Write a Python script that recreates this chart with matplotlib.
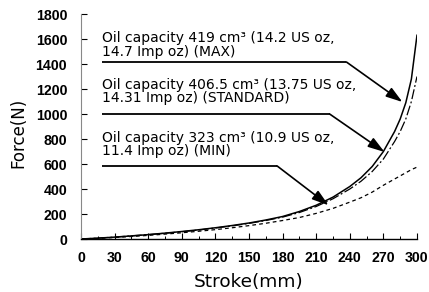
import matplotlib
matplotlib.use("Agg")
import matplotlib.pyplot as plt

plt.rcParams['font.family'] = ['DejaVu Sans']

stroke = [0, 15, 30, 45, 60, 75, 90, 105, 120, 135, 150, 165, 180, 195, 210,
          225, 240, 250, 260, 270, 280, 285, 290, 295, 300]
force_max = [0, 7, 15, 25, 35, 47, 60, 74, 90, 108, 128, 152, 180, 220, 270,
             335, 420, 490, 580, 700, 860, 960, 1090, 1280, 1630]
force_std = [0, 7, 15, 25, 35, 46, 58, 72, 88, 105, 125, 148, 175, 212, 260,
             322, 400, 462, 540, 640, 780, 860, 960, 1100, 1300]
force_min = [0, 5, 12, 20, 29, 39, 50, 62, 75, 90, 107, 126, 148, 172, 205,
             245, 295, 330, 375, 430, 480, 505, 530, 555, 575]

labels = ["Oil capacity 419 cm³ (14.2 US oz,\n14.7 Imp oz) (MAX)",
          "Oil capacity 406.5 cm³ (13.75 US oz,\n14.31 Imp oz) (STANDARD)",
          "Oil capacity 323 cm³ (10.9 US oz,\n11.4 Imp oz) (MIN)"]
label_y = [1552, 1180, 756]
leader_y = [1416, 1000, 585]
leader_x_end = [237, 222, 175]
tip_x = [287, 271, 221]
tip_y = [1096, 696, 270]
text_x = 19

xticks = list(range(0, 301, 30))
yticks = list(range(0, 1801, 200))

fig = plt.figure(figsize=(4.29, 2.92), dpi=100)
ax = fig.add_axes([0.189, 0.1815, 0.783, 0.7705])

ax.plot(stroke, force_max, color='black', lw=1.1, ls='-')
ax.plot(stroke, force_std, color='black', lw=0.9, ls=(0, (8, 2, 1.5, 2)))
ax.plot(stroke, force_min, color='black', lw=0.9, ls=(0, (3, 2.5)))

for lab, ly, ldy, lx, tx, ty in zip(labels, label_y, leader_y, leader_x_end, tip_x, tip_y):
    ax.text(text_x, ly, lab, fontsize=10, ha='left', va='center', linespacing=0.92,
            family='DejaVu Sans')
    ax.plot([text_x, lx], [ldy, ldy], color='black', lw=1.3, solid_capstyle='butt')
    ax.annotate('', xy=(tx, ty), xytext=(lx, ldy),
                arrowprops=dict(arrowstyle='-|>,head_length=1.0,head_width=0.32',
                                color='black', lw=1.2, shrinkA=0, shrinkB=0))

ax.set_xlim(0, 300)
ax.set_ylim(0, 1800)
tick_font = dict(fontsize=10.2, fontweight='bold', family='Liberation Sans')
ax.set_xticks(xticks, labels=[str(v) for v in xticks], **tick_font)
ax.set_yticks(yticks, labels=[str(v) for v in yticks], **tick_font)
ax.set_xticks(list(range(15, 300, 30)), minor=True)
ax.tick_params(axis='both', direction='in', length=4, width=0.8)
ax.tick_params(axis='x', which='minor', direction='in', length=2.5, width=0.7)
ax.tick_params(axis='x', pad=8.5)
ax.tick_params(axis='y', pad=10)
ax.spines['top'].set_visible(False)
ax.spines['right'].set_visible(False)
ax.spines['left'].set_color('#888888')
ax.spines['left'].set_linewidth(0.8)
ax.spines['bottom'].set_linewidth(1.0)
ax.set_xlabel('Stroke(mm)', fontsize=13.3, family='DejaVu Sans')
ax.set_ylabel('Force(N)', fontsize=12, family='DejaVu Sans')
ax.xaxis.set_label_coords(0.5, -0.15)
ax.yaxis.set_label_coords(-0.16, 0.473)

fig.savefig('out.png', dpi=100)
